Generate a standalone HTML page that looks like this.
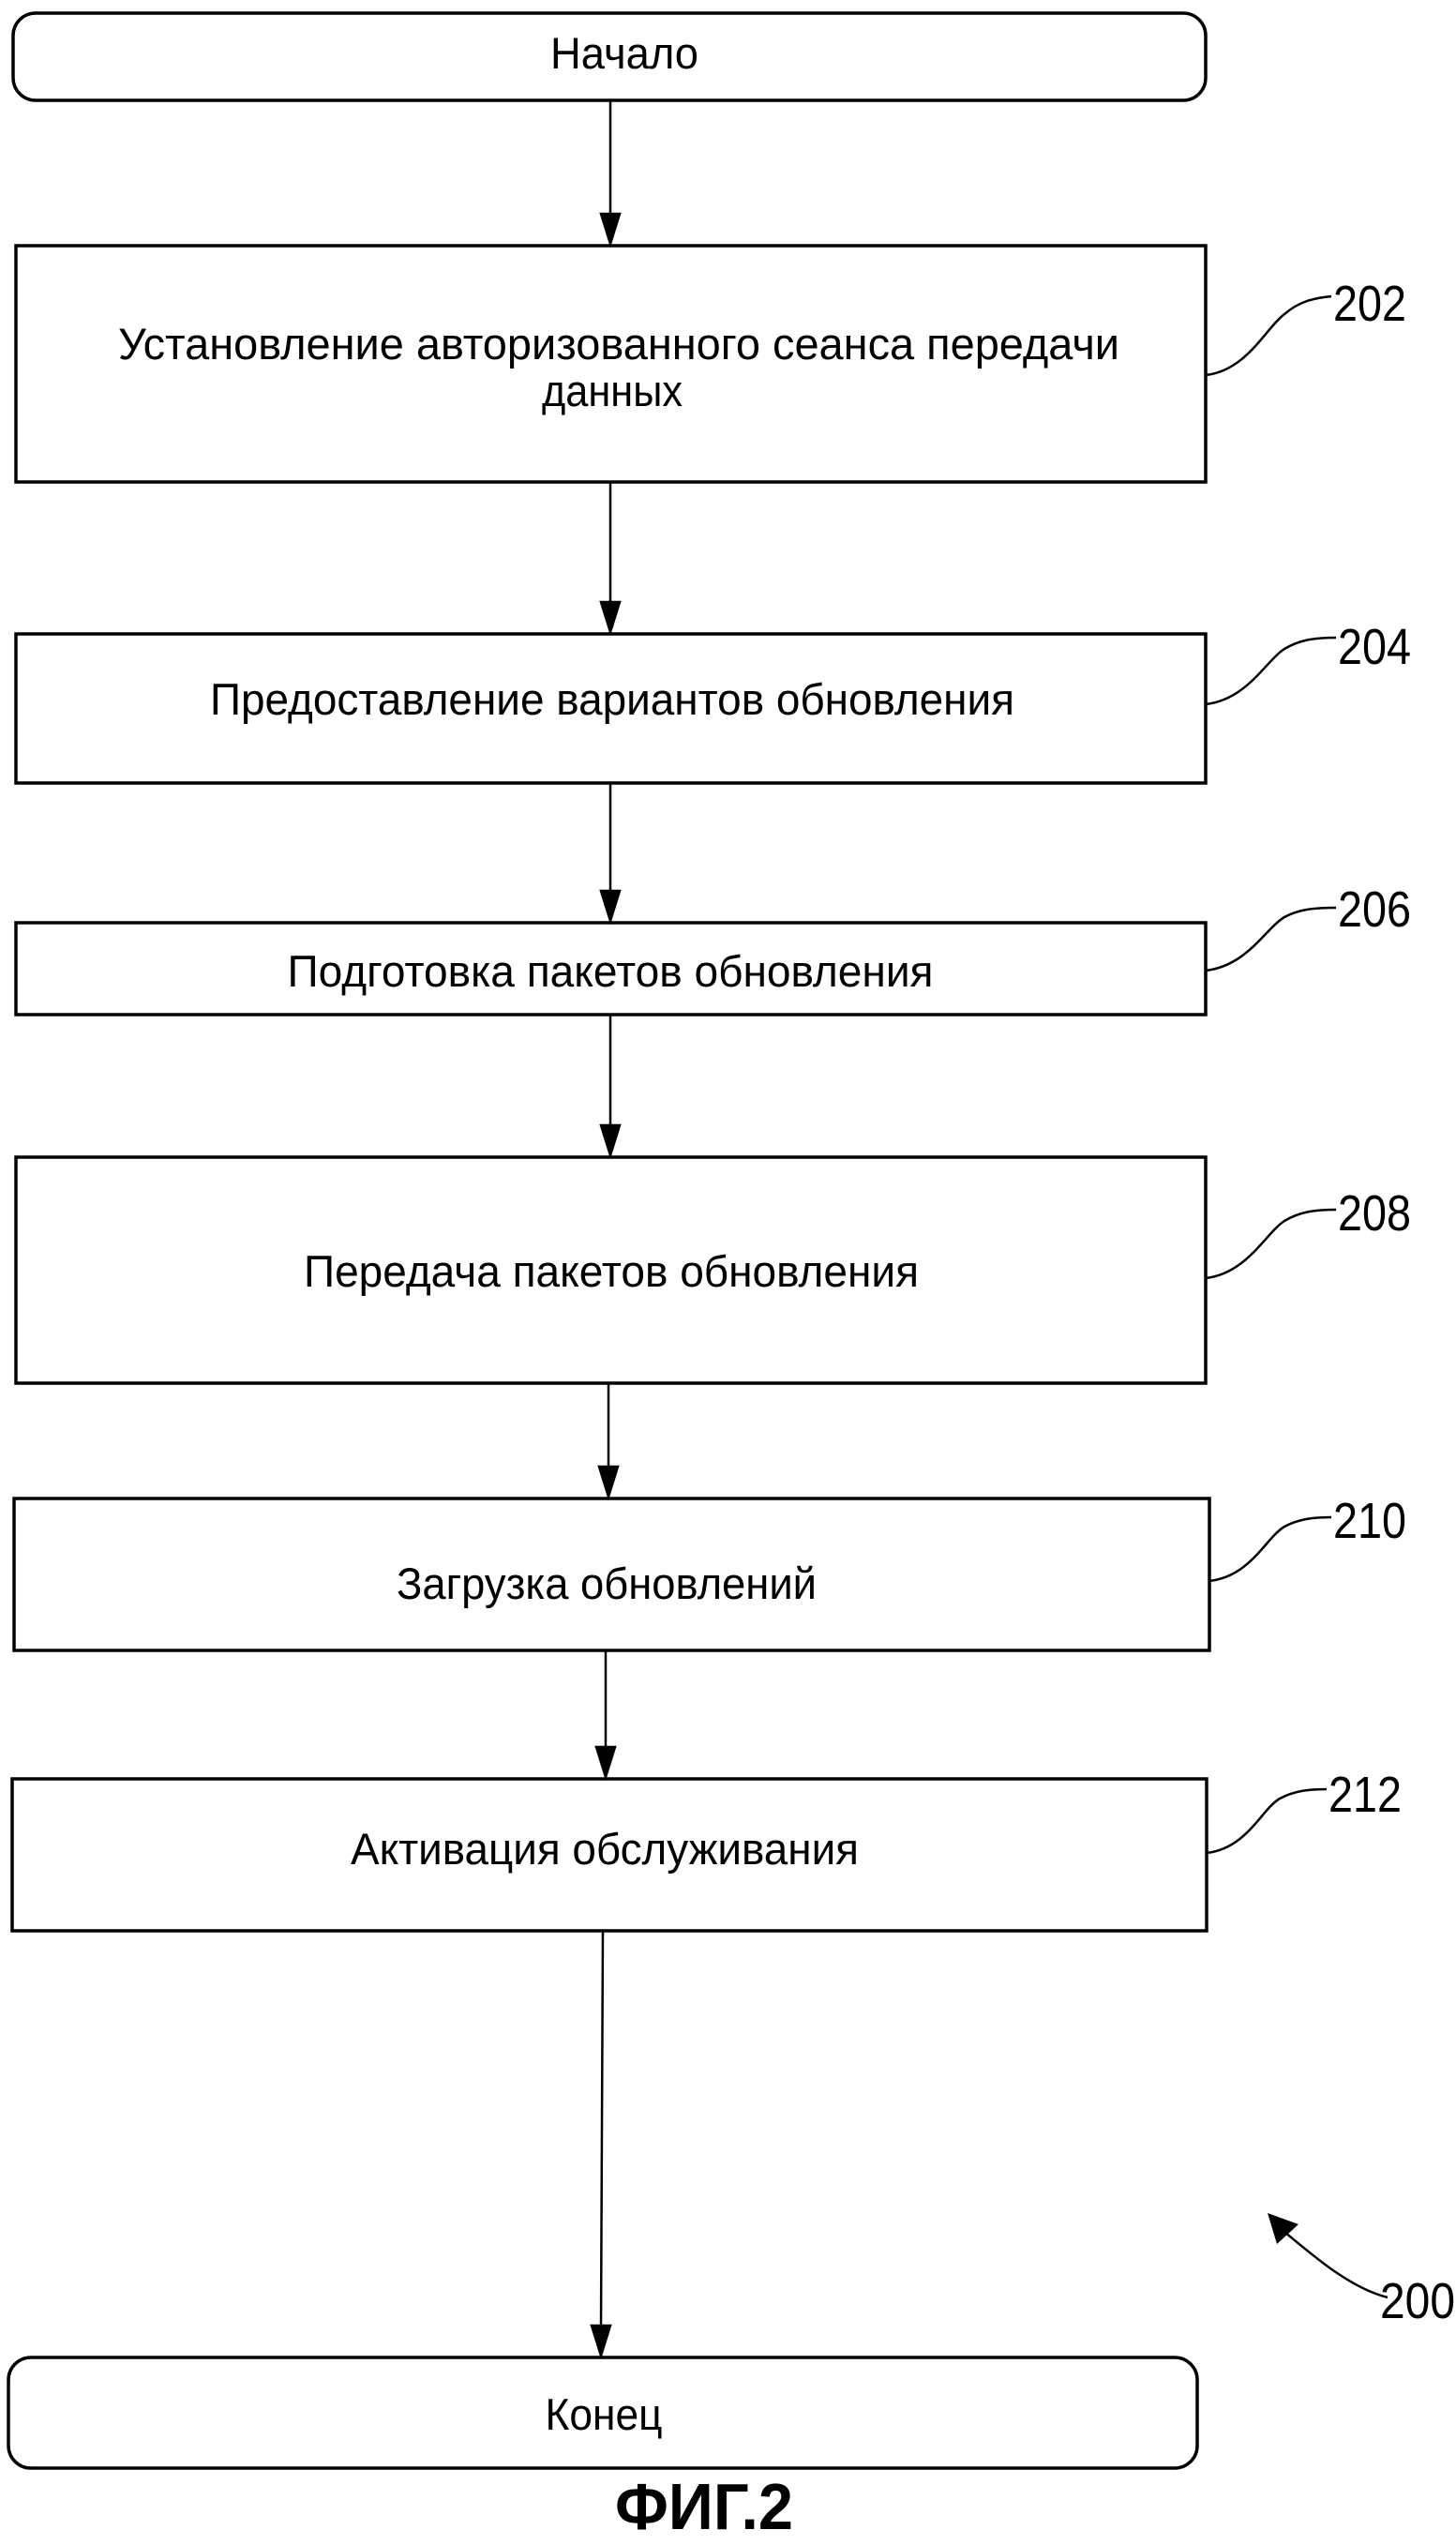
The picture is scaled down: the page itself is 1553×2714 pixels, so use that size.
<!DOCTYPE html>
<html><head><meta charset="utf-8"><style>html,body{margin:0;padding:0;background:#fff}svg{display:block}</style></head>
<body>
<svg width="1553" height="2714" viewBox="0 0 1553 2714" xmlns="http://www.w3.org/2000/svg" font-family="'Liberation Sans', sans-serif" fill="none" stroke="#000">
<g stroke-width="3.5">
<rect x="14" y="14" width="1272" height="93" rx="24"/>
<rect x="17" y="262" width="1269" height="252"/>
<rect x="17" y="676" width="1269" height="159"/>
<rect x="17" y="984" width="1269" height="98"/>
<rect x="17" y="1234" width="1269" height="241"/>
<rect x="15" y="1598" width="1275" height="162"/>
<rect x="13" y="1897" width="1274" height="162"/>
<rect x="9" y="2514" width="1268" height="118" rx="24"/>
</g>
<g stroke-width="2.5">
<line x1="651" y1="107" x2="651" y2="232"/><path d="M641,228 L661,228 L651,260z" fill="#000"/>
<line x1="651" y1="514" x2="651" y2="646"/><path d="M641,642 L661,642 L651,674z" fill="#000"/>
<line x1="651" y1="835" x2="651" y2="954"/><path d="M641,950 L661,950 L651,982z" fill="#000"/>
<line x1="651" y1="1082" x2="651" y2="1204"/><path d="M641,1200 L661,1200 L651,1232z" fill="#000"/>
<line x1="649" y1="1475" x2="649" y2="1568"/><path d="M639,1564 L659,1564 L649,1596z" fill="#000"/>
<line x1="646" y1="1760" x2="646" y2="1867"/><path d="M636,1863 L656,1863 L646,1895z" fill="#000"/>
<line x1="643" y1="2059" x2="641" y2="2484"/><path d="M631,2480 L651,2480 L641,2512z" fill="#000"/>
</g>
<g stroke-width="2.5">
<path d="M1286,400 C1330,395 1350,350 1370,335 C1385,322 1400,318 1420,316"/>
<path d="M1286,751 C1330,746 1350,705 1370,692 C1385,683 1400,680 1425,680"/>
<path d="M1286,1035 C1330,1030 1350,990 1370,978 C1385,970 1400,968 1425,968"/>
<path d="M1286,1363 C1330,1358 1350,1315 1370,1302 C1385,1293 1400,1290 1425,1290"/>
<path d="M1290,1686 C1334,1681 1350,1640 1370,1628 C1385,1620 1400,1618 1420,1618"/>
<path d="M1287,1976 C1330,1971 1345,1930 1365,1918 C1380,1910 1395,1908 1415,1908"/>
<path d="M1480,2450 C1440,2440 1400,2405 1370,2380"/>
</g>
<path d="M1352,2360 L1385,2372 L1362,2393z" fill="#000" stroke="none"/>
<g fill="#000" stroke="none" font-size="47">
<text x="666" y="73" text-anchor="middle" textLength="158" lengthAdjust="spacingAndGlyphs">Начало</text>
<text x="660" y="383" text-anchor="middle" textLength="1068" lengthAdjust="spacingAndGlyphs">Установление авторизованного сеанса передачи</text>
<text x="653" y="433" text-anchor="middle" textLength="150" lengthAdjust="spacingAndGlyphs">данных</text>
<text x="653" y="762" text-anchor="middle" textLength="858" lengthAdjust="spacingAndGlyphs">Предоставление вариантов обновления</text>
<text x="651" y="1052" text-anchor="middle" textLength="689" lengthAdjust="spacingAndGlyphs">Подготовка пакетов обновления</text>
<text x="652" y="1372" text-anchor="middle" textLength="656" lengthAdjust="spacingAndGlyphs">Передача пакетов обновления</text>
<text x="647" y="1705" text-anchor="middle" textLength="448" lengthAdjust="spacingAndGlyphs">Загрузка обновлений</text>
<text x="645" y="1988" text-anchor="middle" textLength="542" lengthAdjust="spacingAndGlyphs">Активация обслуживания</text>
<text x="644" y="2591" text-anchor="middle" textLength="125" lengthAdjust="spacingAndGlyphs">Конец</text>
<g font-size="54">
<text x="1422" y="342" textLength="78" lengthAdjust="spacingAndGlyphs">202</text>
<text x="1427" y="708" textLength="78" lengthAdjust="spacingAndGlyphs">204</text>
<text x="1427" y="988" textLength="78" lengthAdjust="spacingAndGlyphs">206</text>
<text x="1427" y="1312" textLength="78" lengthAdjust="spacingAndGlyphs">208</text>
<text x="1422" y="1640" textLength="78" lengthAdjust="spacingAndGlyphs">210</text>
<text x="1417" y="1932" textLength="78" lengthAdjust="spacingAndGlyphs">212</text>
<text x="1472" y="2472" textLength="80" lengthAdjust="spacingAndGlyphs">200</text>
</g>
<text x="751" y="2697" text-anchor="middle" font-size="70" font-weight="bold" textLength="190" lengthAdjust="spacingAndGlyphs">ФИГ.2</text>
</g>
</svg>
</body></html>
